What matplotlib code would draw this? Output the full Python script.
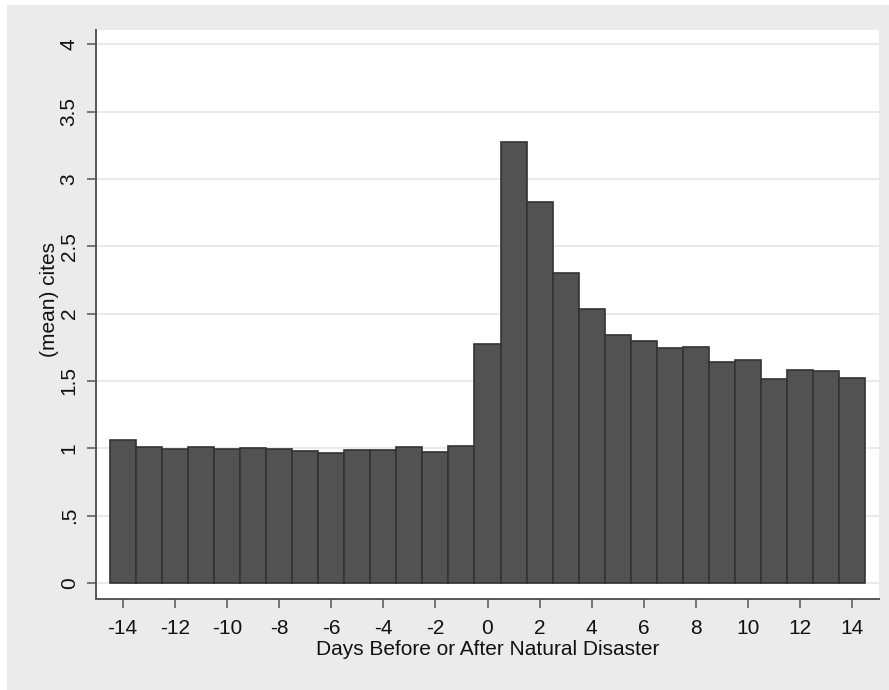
"""
Mean cites by day relative to a natural disaster, Stata-style bar chart.
"""
import matplotlib.pyplot as plt
from matplotlib.patches import Rectangle

# Data
days = list(range(-14, 15))
cites = [
    1.062, 1.010, 0.997, 1.007, 0.997, 1.000, 0.992, 0.982, 0.965, 0.990,
    0.990, 1.007, 0.975, 1.017, 1.778, 3.276, 2.828, 2.300, 2.032, 1.838,
    1.796, 1.746, 1.754, 1.642, 1.657, 1.512, 1.579, 1.572, 1.522,
]
yticks = [0, 0.5, 1, 1.5, 2, 2.5, 3, 3.5, 4]
ytick_labels = ["0", ".5", "1", "1.5", "2", "2.5", "3", "3.5", "4"]
xticks = list(range(-14, 15, 2))

plt.rcParams["font.family"] = ["Liberation Sans", "DejaVu Sans"]
plt.rcParams["axes.unicode_minus"] = False  # Stata uses a plain hyphen

fig = plt.figure(figsize=(8.89, 6.9), dpi=100, facecolor="white")

# light gray outer panel (white border on the top and left)
fig.patches.append(
    Rectangle((7 / 889, 0), 1, 1 - 5 / 690, transform=fig.transFigure,
              facecolor="#ebebeb", edgecolor="none", zorder=-10)
)

ax = fig.add_axes((96 / 889, 1 - 599 / 690, (879 - 96) / 889, (599 - 30) / 690))
ax.set_facecolor("white")

ax.bar(days, cites, width=1.0, color="#525252", edgecolor="#333333",
       linewidth=1.2, zorder=3)

ax.set_xlim(-15.02, 15.02)
ax.set_ylim(-0.119, 4.106)

ax.set_yticks(yticks)
ax.set_yticklabels(ytick_labels, rotation=90, va="center")
ax.set_xticks(xticks)

ax.grid(axis="y", color="#eaeaea", linewidth=1.5, zorder=0)
ax.set_axisbelow(True)

for side in ["top", "right"]:
    ax.spines[side].set_visible(False)
for side in ["left", "bottom"]:
    ax.spines[side].set_color("#555555")
    ax.spines[side].set_linewidth(1.4)

ax.tick_params(axis="both", length=6.5, width=1.1, color="#555555",
               labelsize=15, labelcolor="#111111", pad=8)
ax.tick_params(axis="y", pad=6)

ax.set_ylabel("(mean) cites", fontsize=15, color="#111111")
ax.yaxis.set_label_coords(-37 / 783, (599 - 300) / 569)
ax.set_xlabel("Days Before or After Natural Disaster", fontsize=15,
              color="#111111", labelpad=1)

plt.savefig("out.png", dpi=100, facecolor=fig.get_facecolor())
print("Exported out.png")
